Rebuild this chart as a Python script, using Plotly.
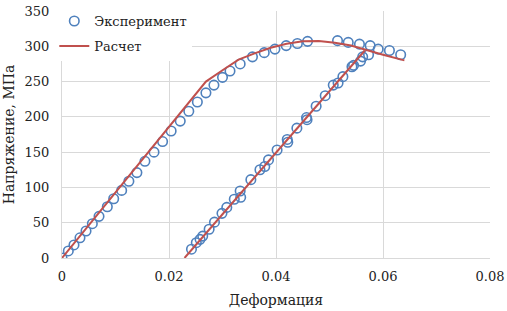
import plotly.graph_objects as go

# Experimental data: loading branch
exp_load_x = [0, 0.00118, 0.00224, 0.00336, 0.00449, 0.00567, 0.00692, 0.00847, 0.00966, 0.01115,
              0.0125, 0.0140, 0.0155, 0.0172, 0.0188, 0.0204, 0.0221, 0.0237, 0.0253, 0.0269,
              0.0284, 0.0300, 0.0314, 0.0333, 0.0356, 0.0378, 0.0398, 0.0419, 0.0440, 0.0459,
              0.0515, 0.0535, 0.0556, 0.0576, 0.0591, 0.0612, 0.0633]
exp_load_y = [0, 10, 18.5, 28.6, 38.3, 48.6, 59, 72.6, 84, 95.8,
              108.7, 121, 137, 150, 165, 180, 194, 208, 221, 234,
              245, 256, 265, 275, 285, 291, 296, 301, 304, 307,
              308, 305.5, 303, 301, 296, 294, 288]

# Experimental data: reloading branch
exp_reload_x = [0.0242, 0.0251, 0.0258, 0.0263, 0.0275, 0.0285, 0.0299, 0.0308, 0.0322, 0.0333,
                0.0334, 0.0353, 0.0370, 0.0379, 0.0386, 0.0402, 0.0421, 0.0422, 0.0439, 0.0457,
                0.0458, 0.0475, 0.0492, 0.0507, 0.0516, 0.0525, 0.0542, 0.0545, 0.0558, 0.0562,
                0.0573]
exp_reload_y = [12.5, 21.7, 26.4, 31, 40.7, 50.8, 63.3, 71.7, 83.3, 94.9,
                86, 111, 125, 129.6, 139, 153, 168, 164, 184, 199,
                196, 215, 230, 245, 248, 257, 271, 273, 279, 285,
                288]

# Calculation
calc1_x = [0, 0.0269, 0.0300, 0.0330, 0.0360, 0.0390, 0.0420, 0.0450, 0.0480, 0.0510,
           0.0540, 0.0570, 0.0600, 0.0640]
calc1_y = [0, 250, 266, 281, 290, 298, 303.5, 307, 307.5, 305, 301, 294, 288, 280]
calc2_x = [0.0229, 0.0566]
calc2_y = [0, 294]

x_ticks = [0, 0.02, 0.04, 0.06, 0.08]
x_tick_labels = ["0", "0.02", "0.04", "0.06", "0.08"]
y_ticks = [0, 50, 100, 150, 200, 250, 300, 350]

blue = "#4F81BD"
red = "#C0504D"
font = "DejaVu Serif"

fig = go.Figure()
fig.add_trace(go.Scatter(
    x=exp_load_x + [None] + exp_reload_x,
    y=exp_load_y + [None] + exp_reload_y,
    mode="markers", name="Эксперимент",
    marker=dict(symbol="circle-open", size=9.5, color=blue, line=dict(width=1.6, color=blue)),
    legendgroup="a",
))
fig.add_trace(go.Scatter(
    x=calc1_x + [None] + calc2_x,
    y=calc1_y + [None] + calc2_y,
    mode="lines", name="Расчет",
    line=dict(color=red, width=2),
    legendgroup="b",
))

fig.update_layout(
    width=507, height=311,
    margin=dict(l=62, r=17, t=6, b=53),
    paper_bgcolor="white", plot_bgcolor="white",
    font=dict(family=font, size=13, color="#222"),
    showlegend=True,
    legend=dict(x=-0.018, y=1.02, xanchor="left", yanchor="top",
                bgcolor="white", font=dict(size=13, family=font),
                traceorder="grouped", tracegroupgap=5,
                itemwidth=30),
    xaxis=dict(range=[0, 0.08], tickvals=x_ticks, ticktext=x_tick_labels,
               showgrid=True, gridcolor="#D9D9D9", gridwidth=1,
               zeroline=False, showline=True, linecolor="#D9D9D9",
               ticks="", ticklen=0, automargin=False, ticklabelstandoff=6,
               ticklabeloverflow="allow",
               title=dict(text="Деформация", font=dict(size=14, family=font), standoff=12)),
    yaxis=dict(range=[0, 350], tickvals=y_ticks,
               showgrid=True, gridcolor="#D9D9D9", gridwidth=1,
               zeroline=False, showline=True, linecolor="#D9D9D9",
               ticks="", ticklen=0, automargin=False, ticklabelstandoff=9,
               ticklabeloverflow="allow",
               title=dict(text="Напряжение, МПа", font=dict(size=14, family=font), standoff=6)),
)

fig.write_html("out.html", config={"displayModeBar": False},
               post_script="document.body.style.margin='0px';")
